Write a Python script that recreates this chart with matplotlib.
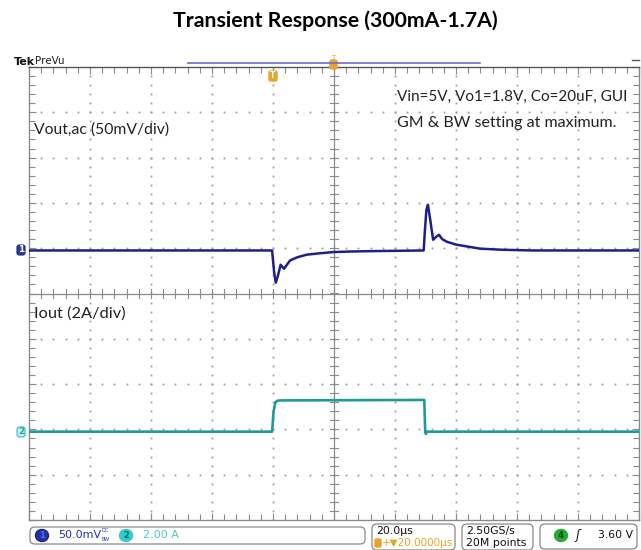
import matplotlib
matplotlib.use("Agg")
import matplotlib.pyplot as plt
import numpy as np
from matplotlib.patches import FancyBboxPatch, Ellipse
from matplotlib.lines import Line2D

# ---------------- data ----------------
# time in microseconds (20 us/div, 10 div)
t_vout = [0, 79.7, 80.4, 80.9, 81.6, 82.5, 83.6, 85.6, 88.0, 91.0, 95.0, 99.7, 105.0,
          112.8, 129.4, 129.8, 130.3, 130.8, 131.5, 132.5, 133.5, 134.4, 135.5,
          137.0, 140.0, 143.6, 147.9, 155.0, 165.0, 200]
vout_mv = [0, 0, -25.0, -35.6, -28.0, -15.8, -20.2, -11.0, -7.5, -4.7, -3.2, -1.8, -1.2,
           -0.7, 0, 22.0, 45.0, 50.4, 35.0, 11.8, 15.0, 17.3, 12.5,
           9.6, 6.5, 4.4, 2.0, 0.8, 0, 0]

t_iout = [0, 79.7, 80.2, 80.8, 81.5, 83.0, 129.6, 129.9, 130.1, 130.5, 200]
iout_a = [0.3, 0.3, 1.2, 1.6, 1.67, 1.68, 1.7, 0.3, 0.2, 0.3, 0.3]

title = "Transient Response (300mA-1.7A)"
ch1_label = "Vout,ac (50mV/div)"
ch2_label = "Iout (2A/div)"
note_lines = ["Vin=5V, Vo1=1.8V, Co=20uF, GUI", "GM & BW setting at maximum."]

ch1_scale_mv = 50.0   # mV/div
ch2_scale_a = 2.0     # A/div
ch1_offset_div = 0.95
ch2_zero_div = -3.2

W, H = 641, 550
fig = plt.figure(figsize=(W / 100, H / 100), dpi=100)
fig.patch.set_facecolor("white")

def fx(px):
    return px / W

def fy(py):
    return 1 - py / H

L, R, T, B = 29, 639, 67, 520
ax = fig.add_axes([fx(L), fy(B), (R - L) / W, (B - T) / H])
ax.set_xlim(0, 200)
ax.set_ylim(-5, 5)
ax.set_facecolor("white")

gcol = "#9c9c9c"
# dotted graticule
for i in range(1, 10):
    if i == 5:
        continue
    x = i * 20
    ys = np.arange(-5, 5.001, 0.2)
    ax.plot(np.full_like(ys, x), ys, ls="none", marker="s", ms=1.3, color=gcol, mew=0, zorder=1)
for j in range(-4, 5):
    if j == 0:
        continue
    xs = np.arange(0, 200.001, 4)
    ax.plot(xs, np.full_like(xs, j), ls="none", marker="s", ms=1.3, color=gcol, mew=0, zorder=1)

# centre lines with ticks
ax.axvline(100, color="#8a8a8a", lw=0.9, zorder=1)
ax.axhline(0, color="#8a8a8a", lw=0.9, zorder=1)
for yv in np.arange(-5, 5.001, 0.2):
    ax.plot([100 - 1.2, 100 + 1.2], [yv, yv], color="#8a8a8a", lw=0.8, zorder=1)
for xv in np.arange(0, 200.001, 4):
    ax.plot([xv, xv], [-0.09, 0.09], color="#8a8a8a", lw=0.8, zorder=1)

# border ticks
ax.set_xticks(np.arange(0, 201, 20))
ax.set_yticks(np.arange(-5, 6, 1))
ax.set_xticks(np.arange(0, 201, 4), minor=True)
ax.set_yticks(np.arange(-5, 5.01, 0.2), minor=True)
ax.tick_params(which="both", direction="in", top=True, right=True,
               labelbottom=False, labelleft=False, color="#8a8a8a", width=0.8)
ax.tick_params(which="major", length=5)
ax.tick_params(which="minor", length=4)
for s in ax.spines.values():
    s.set_color("#8a8a8a")
    s.set_linewidth(1.0)
ax.spines["top"].set_color("#555555")

# traces
vpos = ch1_offset_div + np.array(vout_mv) / ch1_scale_mv
ipos = ch2_zero_div + np.array(iout_a) / ch2_scale_a
ax.plot(t_vout, vpos, color="#1f1f87", lw=1.8, zorder=3)
ax.plot(t_iout, ipos, color="#1f9a9a", lw=1.9, zorder=3)

# annotations inside graticule
fam = ["Lato", "DejaVu Sans"]
ax.text(0.008, 0.862, ch1_label, transform=ax.transAxes, fontsize=11.3, family=fam,
        color="#222222", va="center", ha="left")
ax.text(0.008, 0.455, ch2_label, transform=ax.transAxes, fontsize=11.8, family=fam,
        color="#222222", va="center", ha="left")
ax.text(0.603, 0.935, note_lines[0], transform=ax.transAxes, fontsize=11.0, family=fam,
        color="#222222", va="center", ha="left")
ax.text(0.603, 0.876, note_lines[1], transform=ax.transAxes, fontsize=11.5, family=fam,
        color="#222222", va="center", ha="left")

# channel markers on left
def chan_marker(py, label, fc, ec, tc):
    fig.patches.append(FancyBboxPatch((fx(17), fy(py + 5)), 8 / W, 10 / H,
                                      boxstyle="round,pad=0.0,rounding_size=0.004",
                                      transform=fig.transFigure, fc=fc, ec=ec, lw=0.8))
    fig.text(fx(21), fy(py), label, fontsize=6.5, ha="center", va="center",
             color=tc, weight="bold", family="DejaVu Sans")

chan_marker(250, "1", "#2b3bb0", "#1a2080", "white")
chan_marker(432, "2", "#bff0f0", "#3cbcbc", "#2aa0a0")

# title
fig.text(fx(335), fy(21), title, fontsize=15.3, weight="bold", family=fam,
         ha="center", va="center", color="black")

# top bar
fig.text(fx(14), fy(62), "Tek", fontsize=8, weight="bold", family="DejaVu Sans",
         ha="left", va="center", color="#111111")
fig.text(fx(35), fy(61), "PreVu", fontsize=7.5, family="DejaVu Sans",
         ha="left", va="center", color="#222222")
fig.add_artist(Line2D([fx(188), fx(480)], [fy(63), fy(63)], color="#6b6bd0", lw=1.2))
orange = "#e8a32a"
fig.patches.append(FancyBboxPatch((fx(330), fy(69)), 7 / W, 9 / H,
                                  boxstyle="round,pad=0.0,rounding_size=0.003",
                                  transform=fig.transFigure, fc=orange, ec=orange))
fig.text(fx(333.5), fy(58), "T", fontsize=5, color=orange, ha="center", va="center")
fig.patches.append(FancyBboxPatch((fx(269), fy(81)), 8 / W, 10 / H,
                                  boxstyle="round,pad=0.0,rounding_size=0.003",
                                  transform=fig.transFigure, fc=orange, ec=orange))
fig.text(fx(273), fy(76), "T", fontsize=5.5, color="white", ha="center", va="center",
         weight="bold")
fig.add_artist(Line2D([fx(632), fx(639)], [fy(60), fy(60)], color="#555555", lw=1.0))

# status bar
def rbox(x0, y0, x1, y1, ec="#8a8a8a"):
    fig.patches.append(FancyBboxPatch((fx(x0), fy(y1)), (x1 - x0) / W, (y1 - y0) / H,
                                      boxstyle="round,pad=0.0,rounding_size=0.008",
                                      transform=fig.transFigure, fc="white", ec=ec, lw=0.9))

rbox(30, 527, 365, 544)
rbox(372, 524, 455, 550)
rbox(462, 524, 533, 550)
rbox(540, 524, 637, 549)

fig.patches.append(Ellipse((fx(42), fy(535.5)), 13 / W, 12 / H, transform=fig.transFigure,
                           fc="#2233aa", ec="#1a2080"))
fig.text(fx(42), fy(535.5), "1", fontsize=6, color="#5566ee", ha="center", va="center",
         weight="bold")
fig.text(fx(58), fy(535.5), "50.0mV", fontsize=8, color="#2233aa", ha="left",
         va="center", family="DejaVu Sans")
fig.text(fx(101), fy(530.5), "DC", fontsize=3.5, color="#2233aa", ha="left", va="center")
fig.text(fx(101), fy(539.5), "BW", fontsize=3.5, color="#2233aa", ha="left", va="center")
fig.patches.append(Ellipse((fx(126), fy(535.5)), 13 / W, 12 / H, transform=fig.transFigure,
                           fc="#33cccc", ec="#33cccc"))
fig.text(fx(126), fy(535.5), "2", fontsize=6, color="#116666", ha="center", va="center",
         weight="bold")
fig.text(fx(143), fy(535.5), "2.00 A", fontsize=8, color="#44cccc", ha="left",
         va="center", family="DejaVu Sans")

fig.text(fx(376), fy(531), "20.0µs", fontsize=7.8, color="#111111", ha="left",
         va="center", family="DejaVu Sans")
fig.patches.append(FancyBboxPatch((fx(375), fy(547)), 6 / W, 8 / H,
                                  boxstyle="round,pad=0.0,rounding_size=0.002",
                                  transform=fig.transFigure, fc=orange, ec=orange))
fig.text(fx(382), fy(543), "+▼20.0000µs", fontsize=7.5, color=orange, ha="left",
         va="center", family="DejaVu Sans")

fig.text(fx(466), fy(531), "2.50GS/s", fontsize=7.8, color="#111111", ha="left",
         va="center", family="DejaVu Sans")
fig.text(fx(466), fy(543), "20M points", fontsize=7.8, color="#111111", ha="left",
         va="center", family="DejaVu Sans")

fig.patches.append(Ellipse((fx(561), fy(535.5)), 13 / W, 12 / H, transform=fig.transFigure,
                           fc="#22aa33", ec="#22aa33"))
fig.text(fx(561), fy(535.5), "4", fontsize=6, color="#0a4a10", ha="center", va="center",
         weight="bold")
fig.text(fx(578), fy(535.5), "ʃ", fontsize=9, color="#111111", ha="center", va="center",
         family="DejaVu Sans", style="italic")
fig.text(fx(633), fy(535.5), "3.60 V", fontsize=7.8, color="#111111", ha="right",
         va="center", family="DejaVu Sans")

fig.savefig("out.png", dpi=100, facecolor="white")
